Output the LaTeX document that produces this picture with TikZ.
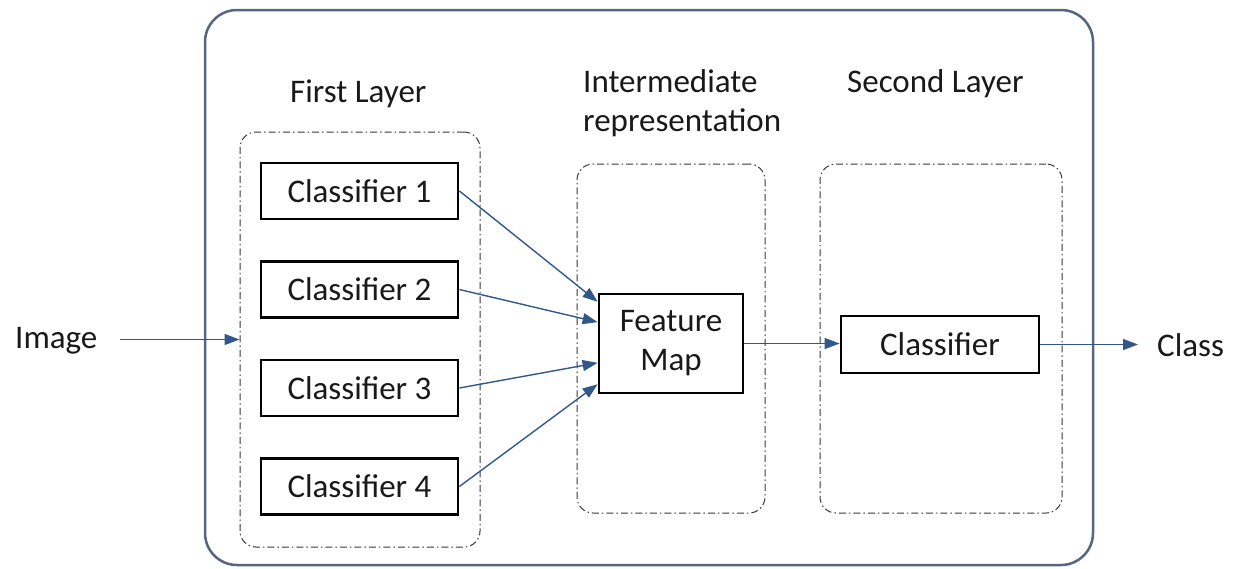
\documentclass[tikz,border=0pt]{standalone}
\usepackage{fontspec}
\setmainfont{Carlito}
\usetikzlibrary{arrows.meta,calc}
\definecolor{frameblue}{RGB}{84,102,130}
\definecolor{arrowblue}{RGB}{50,88,138}
\definecolor{dashgray}{RGB}{55,55,55}
\definecolor{ink}{RGB}{25,25,25}
\begin{document}
\begin{tikzpicture}[x=1pt,y=-1pt,
  font=\fontsize{33}{40}\selectfont, text=ink,
  frame/.style={draw=frameblue, line width=2.5pt, rounded corners=32pt, inner sep=0pt},
  group/.style={draw=dashgray, line width=1pt,
    dash pattern=on 7pt off 3pt on 1.5pt off 3pt, rounded corners=16pt, inner sep=0pt},
  clsbox/.style={draw=black, line width=2.8pt, minimum width=197pt,
    minimum height=56pt, inner sep=0pt},
  conn/.style={draw=arrowblue, line width=1.4pt,
    -{Triangle[length=15pt,width=11pt]}},
  lbl/.style={inner sep=0pt, anchor=base west}]

\useasboundingbox (0,0) rectangle (1234,568);

% outer frame
\node[frame, minimum width=888pt, minimum height=555pt] (outer) at (649,287.5) {};

% dashed groups
\node[group, minimum width=240pt, minimum height=415pt] (fl) at (360,339.5) {};
\node[group, minimum width=188pt, minimum height=349pt] (ir) at (671,338.5) {};
\node[group, minimum width=242pt, minimum height=349pt] (sl) at (941,338.5) {};

% group titles
\node[lbl] (tfirst) at (290,102) {First Layer};
\node[lbl] (tint1) at (583,92) {Intermediate};
\node[lbl] (tint2) at (583,131) {representation};
\node[lbl] (tsecond) at (847,92) {Second Layer};

% first layer classifiers
\node[clsbox] (c1) at (359.5,191) {Classifier 1};
\node[clsbox] (c2) at (359.5,289.5) {Classifier 2};
\node[clsbox] (c3) at (359.5,388) {Classifier 3};
\node[clsbox] (c4) at (359.5,486.5) {Classifier 4};

% intermediate feature map
\node[clsbox, minimum width=144pt, minimum height=99pt, align=center] (fm)
  at (671,343.5) {Feature\\[-1pt]Map};

% second layer classifier
\node[clsbox, minimum width=198pt, minimum height=57pt] (cf) at (940,344.5) {Classifier};

% input and output
\node[lbl] (img) at (15,348) {Image};
\node[lbl] (cls) at (1157,356) {Class};
\coordinate (imgout) at (120,339.5);
\coordinate (clsin) at (1138,344.5);

% connectors
\draw[conn] (imgout) -- (fl.west);
\draw[conn] (c1.east) -- ($(fm.north west)!0.09!(fm.south west)$);
\draw[conn] (c2.east) -- ($(fm.north west)!0.29!(fm.south west)$);
\draw[conn] (c3.east) -- ($(fm.north west)!0.69!(fm.south west)$);
\draw[conn] (c4.east) -- ($(fm.north west)!0.90!(fm.south west)$);
\draw[conn] (fm.east) -- (fm.east -| cf.west);
\draw[conn] (cf.east) -- (clsin);
\end{tikzpicture}
\end{document}
